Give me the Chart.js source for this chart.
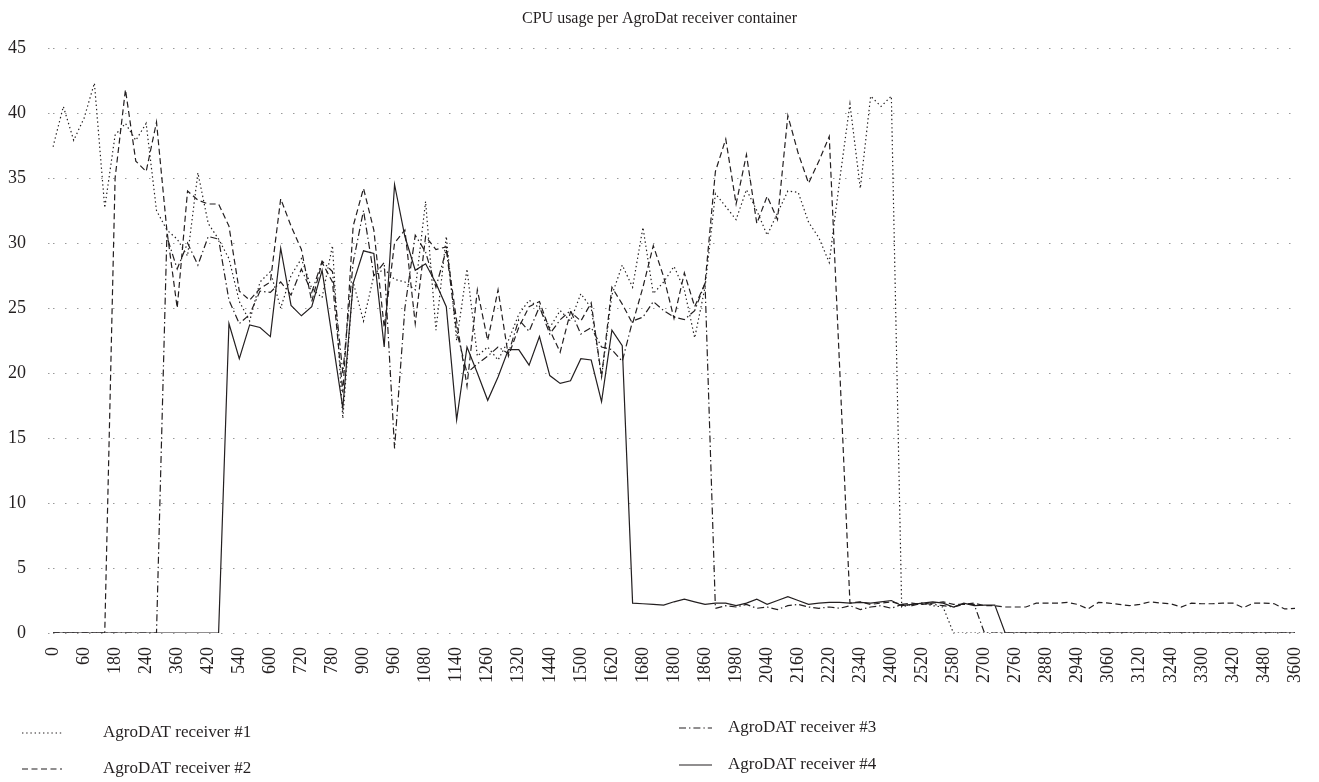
<!DOCTYPE html>
<html>
<head>
<meta charset="utf-8">
<script src="https://cdn.jsdelivr.net/npm/chart.js@4.4.1/dist/chart.umd.min.js"></script>
<style>
  html, body { margin: 0; padding: 0; background: #fff; }
  #wrap { width: 1319px; height: 782px; }
</style>
</head>
<body>
<div id="wrap"><canvas id="cpu" width="1319" height="782"></canvas></div>
<script>
// sample times (s) on the category axis
const times = [0,20,40,60,100,140,180,200,220,240,280,320,360,380,400,420,460,500,540,560,580,600,640,680,
  720,740,760,780,820,860,900,920,940,960,1000,1040,1080,1100,1120,1140,1180,1220,1260,1280,1300,1320,1360,1400,
  1440,1460,1480,1500,1540,1580,1620,1640,1660,1680,1720,1760,1800,1820,1840,1860,1900,1940,1980,2000,2020,2040,
  2080,2120,2160,2180,2200,2220,2260,2300,2340,2360,2380,2400,2440,2480,2520,2540,2560,2580,2620,2660,2700,2720,
  2740,2760,2800,2840,2880,2900,2920,2940,2980,3020,3060,3080,3100,3120,3160,3200,3240,3260,3280,3300,3340,3380,
  3420,3440,3460,3480,3520,3560,3600];

// labels printed under the axis
const tickLabels = [0,60,180,240,360,420,540,600,720,780,900,960,1080,1140,1260,1320,1440,1500,1620,1680,1800,
  1860,1980,2040,2160,2220,2340,2400,2520,2580,2700,2760,2880,2940,3060,3120,3240,3300,3420,3480,3600];

const yTicks = [0, 5, 10, 15, 20, 25, 30, 35, 40, 45];

const chartTitle = 'CPU usage per AgroDat receiver container';
const seriesNames = ['AgroDAT receiver #1', 'AgroDAT receiver #2', 'AgroDAT receiver #3', 'AgroDAT receiver #4'];

const receiver1 = [37.4,40.5,37.9,39.6,42.3,32.7,38.3,39.2,37.9,39.2,
  32.5,31.0,30.3,29.0,35.4,31.5,30.3,28.8,25.5,24.0,
  27.0,27.8,25.0,27.5,28.8,26.5,25.8,29.8,16.5,27.0,
  24.0,27.5,28.0,27.2,27.0,26.4,33.2,23.3,30.5,22.5,
  28.0,21.3,22.0,21.0,22.5,24.5,25.6,25.0,23.5,24.8,
  24.0,26.1,25.0,19.7,26.0,28.3,26.6,31.2,26.1,27.0,
  28.2,26.4,22.7,26.6,33.8,32.8,31.8,34.1,32.5,30.6,
  32.3,34.0,33.9,31.6,30.4,28.5,34.8,40.7,34.2,41.3,
  40.5,41.3,2.0,2.2,2.3,2.1,2.0,0,0,0,
  0,0,0,0,0,0,0,0,0,0,
  0,0,0,0,0,0,0,0,0,0,
  0,0,0,0,0,0,0,0,0,0,
  0];

const receiver2 = [0,0,0,0,0,0,35.0,41.8,36.3,35.5,
  39.3,31.0,25.0,34.0,33.3,33.0,33.0,31.3,26.3,25.6,
  26.5,27.0,33.4,31.3,29.5,25.5,28.5,27.0,18.5,31.3,
  34.2,31.0,23.5,30.0,31.0,23.8,30.5,29.5,29.7,24.0,
  19.0,26.4,22.5,26.4,21.3,23.5,25.1,25.5,23.3,21.6,
  24.7,24.0,25.4,19.7,26.6,25.3,23.8,26.6,29.8,27.4,
  24.2,27.7,25.1,26.9,35.5,38.0,33.0,36.8,31.5,33.6,
  31.8,39.8,36.9,34.6,36.3,38.2,20.5,2.3,2.4,2.2,
  2.3,2.4,2.2,2.3,2.2,2.3,2.4,2.2,2.2,2.3,
  2.1,2.1,2.0,2.0,2.0,2.3,2.3,2.3,2.35,2.2,
  1.85,2.35,2.3,2.2,2.1,2.2,2.4,2.3,2.25,2.0,
  2.3,2.25,2.25,2.3,2.3,1.95,2.3,2.3,2.25,1.85,
  1.9];

const receiver3 = [0,0,0,0,0,0,0,0,0,0,
  0,30.5,28.0,30.0,28.3,30.5,30.3,25.6,23.8,24.5,
  26.3,26.2,27.0,26.0,28.0,26.2,28.6,27.8,20.0,28.5,
  32.5,27.5,28.5,14.2,25.0,30.6,29.3,26.6,29.5,23.2,
  20.0,20.7,21.3,22.0,21.5,24.1,23.2,25.1,23.0,24.1,
  24.8,23.0,23.5,22.0,21.8,20.9,24.0,24.3,25.5,24.8,
  24.3,24.1,24.8,26.9,1.9,2.1,2.0,2.2,1.9,2.0,
  1.8,2.1,2.2,2.0,1.9,2.0,1.9,2.1,1.8,2.0,
  2.1,1.9,2.2,2.1,2.3,2.2,2.1,2.0,2.2,2.2,
  0,0,0,0,0,0,0,0,0,0,
  0,0,0,0,0,0,0,0,0,0,
  0,0,0,0,0,0,0,0,0,0,
  0];

const receiver4 = [0,0,0,0,0,0,0,0,0,0,
  0,0,0,0,0,0,0,23.8,21.1,23.7,
  23.5,22.8,29.6,25.2,24.4,25.1,27.9,22.6,17.3,26.9,
  29.4,29.2,22.0,34.5,30.5,27.9,28.4,26.9,25.1,16.4,
  22.0,20.0,17.9,19.7,21.8,21.8,20.6,22.8,19.8,19.2,
  19.4,21.1,21.0,17.8,23.3,22.1,2.3,2.25,2.2,2.15,
  2.4,2.6,2.4,2.2,2.3,2.3,2.1,2.3,2.6,2.2,
  2.5,2.8,2.5,2.2,2.3,2.35,2.35,2.3,2.35,2.3,
  2.4,2.5,2.1,2.2,2.3,2.4,2.3,2.0,2.3,2.1,
  2.15,2.15,0,0,0,0,0,0,0,0,
  0,0,0,0,0,0,0,0,0,0,
  0,0,0,0,0,0,0,0,0,0,
  0];

const ink = '#231f20';
const gridGrey = '#9a9a9a';
const serif = "'Liberation Serif', 'DejaVu Serif', serif";
const dashes = [[1.4, 2.8], [6, 3.5], [7, 3, 1.4, 3], []];

const datasets = [receiver1, receiver2, receiver3, receiver4].map((values, i) => ({
    label: seriesNames[i],
    data: values,
    borderColor: ink,
    borderWidth: 1.2,
    borderDash: dashes[i],
    pointRadius: 0,
    tension: 0,
    fill: false
}));

// title centred on the page and a two-column legend under the axis
const legendSlots = [
    { x: 22, y: 733, w: 40, gap: 41 },
    { x: 22, y: 769, w: 40, gap: 41 },
    { x: 679, y: 728, w: 33, gap: 16 },
    { x: 679, y: 765, w: 33, gap: 16 }
];

const decorations = {
    id: 'decorations',
    afterDraw(chart) {
        const ctx = chart.ctx;
        ctx.save();
        ctx.fillStyle = ink;
        ctx.textBaseline = 'middle';
        ctx.textAlign = 'center';
        ctx.font = '16px ' + serif;
        ctx.fillText(chartTitle, chart.width / 2, 19);

        ctx.textAlign = 'left';
        ctx.font = '17px ' + serif;
        chart.data.datasets.forEach((ds, i) => {
            const s = legendSlots[i];
            ctx.strokeStyle = ds.borderColor;
            ctx.lineWidth = ds.borderWidth;
            ctx.setLineDash(ds.borderDash);
            ctx.beginPath();
            ctx.moveTo(s.x, s.y);
            ctx.lineTo(s.x + s.w, s.y);
            ctx.stroke();
            ctx.setLineDash([]);
            ctx.fillText(ds.label, s.x + s.w + s.gap, s.y);
        });
        ctx.restore();
    }
};

new Chart(document.getElementById('cpu'), {
    type: 'line',
    data: { labels: times, datasets },
    plugins: [decorations],
    options: {
        responsive: false,
        animation: false,
        layout: { padding: { left: 7, right: 24, top: 48, bottom: 85 } },
        plugins: {
            legend: { display: false },
            tooltip: { enabled: false },
            title: { display: false }
        },
        scales: {
            x: {
                offset: false,
                afterFit: axis => { axis.paddingRight = 0; axis.paddingLeft = 0; },
                grid: { display: false, drawTicks: false },
                border: { display: false },
                ticks: {
                    autoSkip: false,
                    maxRotation: 90,
                    minRotation: 90,
                    padding: 14,
                    color: ink,
                    font: { family: serif, size: 18 },
                    callback: (v, i) => tickLabels.includes(times[i]) ? String(times[i]) : ''
                }
            },
            y: {
                min: 0,
                max: 45,
                afterBuildTicks: axis => { axis.ticks = yTicks.map(v => ({ value: v })); },
                afterFit: axis => { axis.width = 46; },
                grid: {
                    color: gridGrey,
                    lineWidth: 1,
                    tickLength: 5,
                    tickColor: gridGrey,
                    tickBorderDash: [1.5, 10.5]
                },
                border: { display: false, dash: [1.5, 10.5] },
                ticks: {
                    padding: 22,
                    color: ink,
                    font: { family: serif, size: 18 }
                }
            }
        }
    }
});
</script>
</body>
</html>
